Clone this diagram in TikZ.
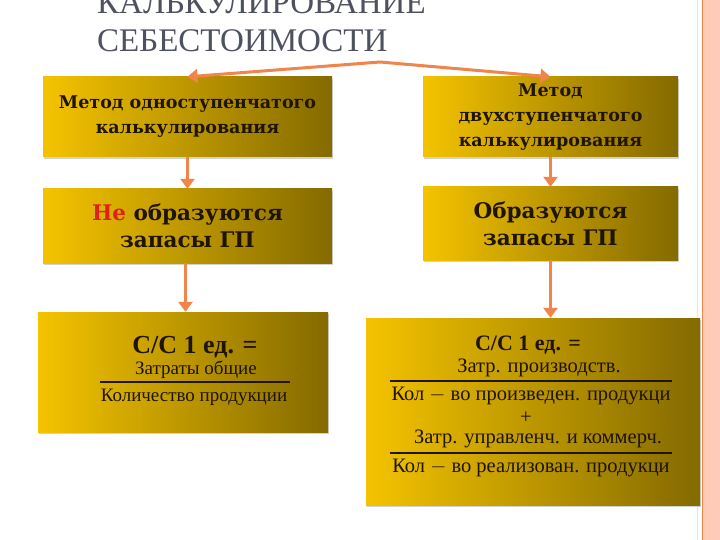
\documentclass[tikz,border=0pt]{standalone}
\usepackage{fontspec}
\setmainfont{Liberation Serif}
\newfontfamily\boxfont{DejaVu Serif}
\usetikzlibrary{arrows.meta,shadows}
\definecolor{goldA}{HTML}{F4C300}
\definecolor{goldB}{HTML}{D6AA00}
\definecolor{goldC}{HTML}{846A00}
\definecolor{arrowc}{HTML}{F0844A}
\definecolor{titlec}{HTML}{4E5160}
\definecolor{stripc}{HTML}{FDCBB8}
\definecolor{inkc}{HTML}{1E1400}
\definecolor{redc}{HTML}{E0201A}

\begin{document}
\begin{tikzpicture}
[x=1pt,y=-1pt]
\tikzset{goldbox/.style={left color=goldA,middle color=goldB,right color=goldC,
  drop shadow={opacity=0.35,shadow xshift=1pt,shadow yshift=-2pt},
  text=inkc,align=center,inner sep=0pt}}
\tikzset{boxtext/.style={font=\boxfont\bfseries\fontsize{17.5}{25}\selectfont}}
\tikzset{bigtext/.style={font=\boxfont\bfseries\fontsize{21.5}{27}\selectfont}}
\tikzset{arr/.style={draw=arrowc,line width=3pt,-{Triangle[width=14pt,length=10pt]}}}
\tikzset{fr/.style={text=inkc,inner sep=0pt}}
\useasboundingbox (0,0) rectangle (720,540);
\fill[white] (0,0) rectangle (720,540);
\fill[stripc] (702,0) rectangle (720,540);
\draw[arrowc,line width=1pt] (702,0) -- (702,540);
\draw[stripc!70,line width=1pt] (697,0) -- (697,540);

% title
\node [anchor=base west,text=titlec,font=\fontsize{33}{38}\selectfont,inner sep=0pt] (title1) at (97,14) {КАЛЬКУЛИРОВАНИЕ};
\node [anchor=base west,text=titlec,font=\fontsize{33}{38}\selectfont,inner sep=0pt] (title2) at (97,52) {СЕБЕСТОИМОСТИ};
\coordinate (top) at (380,62);

% boxes
\node [goldbox,boxtext,minimum width=289pt,minimum height=80pt] (one) at (187.5,117) {Метод одноступенчатого\\калькулирования};
\node [goldbox,boxtext,minimum width=255pt,minimum height=80pt] (two) at (550.5,117) {Метод\\двухступенчатого\\калькулирования};
\node [goldbox,bigtext,minimum width=289pt,minimum height=74pt] (nostock) at (187.5,226) {{\color{redc}Не} образуются\\запасы ГП};
\node [goldbox,bigtext,minimum width=255pt,minimum height=73pt] (stock) at (550.5,223.5) {Образуются\\запасы ГП};
\node [goldbox,minimum width=290pt,minimum height=120pt] (calc1) at (183,372) {};
\node [goldbox,minimum width=334pt,minimum height=187pt] (calc2) at (533,411.5) {};

% formula one
\node [fr,font=\bfseries\fontsize{26}{26}\selectfont] (h1) at (195,347) {С/С 1 ед. =};
\node [fr,font=\fontsize{19}{19}\selectfont] (n1) at (196,370) {Затраты общие};
\node [fr,font=\fontsize{19}{19}\selectfont] (d1) at (194,397) {Количество продукции};
\draw [inkc,line width=1.5pt] (100,382) -- (290,382);

% formula two
\node [fr,font=\bfseries\fontsize{22}{22}\selectfont] (h2) at (528,345) {С/С 1 ед. =};
\node [fr,font=\fontsize{20.5}{20.5}\selectfont] (n2) at (539,368) {Затр. производств.};
\node [fr,font=\fontsize{20.5}{20.5}\selectfont] (d2) at (531,396) {Кол $-$ во произведен. продукци};
\node [fr,font=\fontsize{20.5}{20.5}\selectfont] (plus) at (526,418) {+};
\node [fr,font=\fontsize{20.5}{20.5}\selectfont] (n3) at (538,439) {Затр. управленч. и коммерч.};
\node [fr,font=\fontsize{20.5}{20.5}\selectfont] (d3) at (531,468) {Кол $-$ во реализован. продукци};
\draw [inkc,line width=1.5pt] (390,381) -- (672,381);
\draw [inkc,line width=1.5pt] (390,453) -- (672,453);

% arrows
\draw [arr] (top) -- (one.north);
\draw [arr] (top) -- (two.north);
\foreach \from/\to in {one/nostock,two/stock}
	\draw [arr] (\from) -- (\to);
\draw [arr] ([xshift=-2pt]nostock.south) -- ([xshift=-2pt]nostock.south |- calc1.north);
\draw [arr] (stock.south) -- (stock.south |- calc2.north);

\end{tikzpicture}
\end{document}
